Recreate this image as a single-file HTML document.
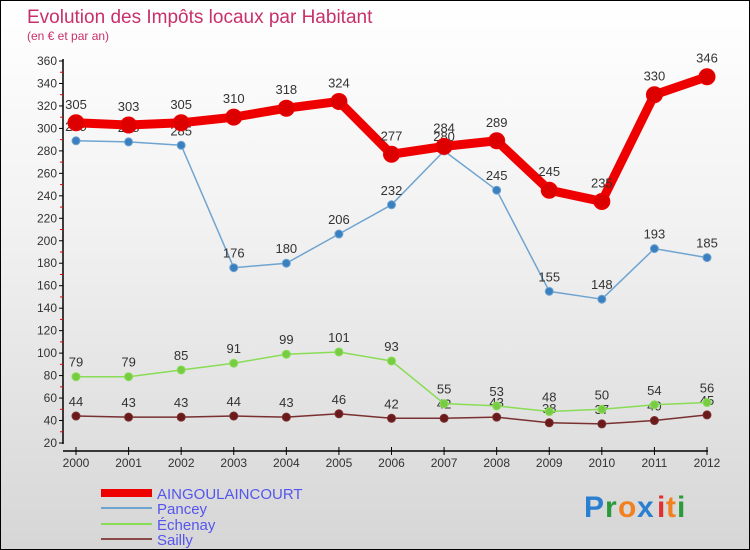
<!DOCTYPE html>
<html><head><meta charset="utf-8"><style>
body{margin:0;}
#wrap{position:relative;width:750px;height:550px;box-sizing:border-box;border:1px solid #000;background:linear-gradient(#ffffff,#f2f2f2 40%,#d6d6d6);font-family:"Liberation Sans",sans-serif;overflow:hidden;}
text{font-family:"Liberation Sans",sans-serif;}
</style></head><body>
<div id="wrap">
<svg id="chart" width="750" height="550" style="position:absolute;left:0;top:0">
<text x="26" y="22" font-size="19" fill="#c8306a">Evolution des Impôts locaux par Habitant</text>
<text x="26" y="39" font-size="12" fill="#c8306a">(en € et par an)</text>
<g id="axes"></g><g id="series"></g>
<g>
<rect x="100" y="488" width="51" height="8" fill="#ee0000"/>
<text x="156" y="498" font-size="15" fill="#5555ee">AINGOULAINCOURT</text>
<line x1="100" y1="507" x2="151" y2="507" stroke="#6fa4d0" stroke-width="2"/>
<text x="156" y="513" font-size="15" fill="#5555ee">Pancey</text>
<line x1="100" y1="523" x2="151" y2="523" stroke="#88dd55" stroke-width="2"/>
<text x="156" y="529" font-size="15" fill="#5555ee">Échenay</text>
<line x1="100" y1="538" x2="151" y2="538" stroke="#8b4a4a" stroke-width="2"/>
<text x="156" y="544" font-size="15" fill="#5555ee">Sailly</text>
</g>
<g font-size="30" font-weight="bold">
<text x="583" y="516" fill="#2a7fd0">P</text><text x="604" y="516" fill="#2a9a3a">r</text><text x="617" y="516" fill="#f08020">o</text><text x="636" y="516" fill="#2a7fd0">x</text><text x="656" y="516" fill="#e03030">i</text><text x="665" y="516" fill="#f08020">t</text><text x="676" y="516" fill="#2a9a3a">i</text>
</g>
</svg>
</div>
<script>
const years=[2000,2001,2002,2003,2004,2005,2006,2007,2008,2009,2010,2011,2012];
const aingoulaincourt=[305,303,305,310,318,324,277,284,289,245,235,330,346];
const pancey=[289,288,285,176,180,206,232,280,245,155,148,193,185];
const echenay=[79,79,85,91,99,101,93,55,53,48,50,54,56];
const sailly=[44,43,43,44,43,46,42,42,43,38,37,40,45];
const yTicks=[20,40,60,80,100,120,140,160,180,200,220,240,260,280,300,320,340,360];
const NS='http://www.w3.org/2000/svg';
function xs(i){return 75+i*(706-75)/(years.length-1);}
function ys(v){return 442-(v-20)*382/340;}
function mk(tag,attrs,parent,txt){const e=document.createElementNS(NS,tag);for(const k in attrs)e.setAttribute(k,attrs[k]);if(txt!==undefined)e.textContent=txt;parent.appendChild(e);return e;}
const axes=document.getElementById('axes');
let a=mk('line',{x1:62,y1:58,x2:62,y2:443,stroke:'#000','stroke-width':1.5},axes);


yTicks.forEach(v=>{
 const y=ys(v);
 mk('line',{x1:58,y1:y,x2:62,y2:y,stroke:'#000'},axes);
 if(v<360) mk('line',{x1:59,y1:ys(v+10),x2:62,y2:ys(v+10),stroke:'#e00'},axes);
 const t=mk('text',{x:56,y:y+4,'font-size':12,fill:'#333','text-anchor':'end'},axes,v);
 
 
});
a=mk('line',{x1:62,y1:450,x2:707,y2:450,stroke:'#000','stroke-width':1.5},axes);


years.forEach((yr,i)=>{
 const x=xs(i);
 mk('line',{x1:x,y1:446,x2:x,y2:454,stroke:'#000'},axes);
 const t=mk('text',{x:x,y:466,'font-size':12,fill:'#333','text-anchor':'middle'},axes,yr);
 
 
});
const ser=document.getElementById('series');
function draw(vals,color,w,r,name,dot){
 const g=mk('g',{},ser);
 
 
 const pl=mk('polyline',{points:vals.map((v,i)=>xs(i)+','+ys(v)).join(' '),fill:'none',stroke:color,'stroke-width':w,'stroke-linejoin':'round'},g);
 
 
 vals.forEach((v,i)=>{
  const c=mk('circle',{cx:xs(i),cy:ys(v),r:r,fill:dot,stroke:color,'stroke-width':1},g);
  
  
  const t=mk('text',{x:xs(i),y:ys(v)-(r+6),'font-size':13,fill:'#333','text-anchor':'middle'},g,v);
  
  
 });
}
draw(sailly,'#7a3030',1.5,4,'sailly','#6a1a1a');
draw(echenay,'#88dd55',1.5,4,'echenay','#77cc44');
draw(pancey,'#6fa4d0',1.5,4,'pancey','#3a7fc0');
draw(aingoulaincourt,'#ee0000',9,8,'aingoulaincourt','#dd0000');
</script>
</body></html>
